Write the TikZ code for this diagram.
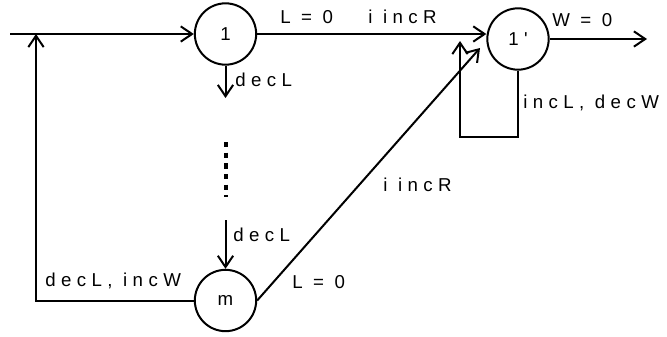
\documentclass[tikz,border=0pt]{standalone}
\usepackage{fontspec}
\setmainfont{Liberation Sans}
\newfontfamily\spacedfont[LetterSpace=29]{Liberation Sans}
\usetikzlibrary{positioning,arrows.meta,calc}
\tikzset{
  fig/.style={font=\spacedfont\fontsize{14}{16}\selectfont},
  state/.style={draw,circle,line width=1.5pt,minimum size=46pt,inner sep=0pt},
  ln/.style={-{Straight Barb[length=8.5pt,width=11.5pt,line width=1.5pt]},line width=1.5pt},
  lbl/.style={anchor=west,inner sep=1.5pt,text height=10pt,text depth=0pt},
}

\begin{document}
\begin{tikzpicture}[fig,x=0.75pt,y=-0.75pt,
  dots/.style={line width=3pt,dash pattern=on 4pt off 4pt}]

\useasboundingbox (0,0) rectangle (667,336);

% =======================  states  =====================
\node[state] (s1)  at (225.5,34)  {1};
\node[state] (s1p) at (518,39)    {1'};
\node[state] (sm)  at (225.5,300.5) {m};

% free ends of the connectors
\coordinate (in)    at (10,34);
\coordinate (jn)    at (36,34);
\coordinate (out)   at (647,39);
\coordinate (lp)    at (460,137);
\coordinate (lpend) at (460,41);
\coordinate (dg)    at (480,48);
\coordinate (d1)    at (225.5,98);
\coordinate (d2)    at (225.5,220);
\coordinate (dt1)   at (225.5,142);
\coordinate (dt2)   at (225.5,197);

% =======================  connectors  =====================
\draw[ln] (in) -- (s1);
\draw[ln] (s1) -- (s1 -| s1p.west);
\draw[ln] (s1p) -- (out);
\draw[ln] (s1p.south) |- (lp) -- (lpend);
\draw[ln] (sm.east) -- (dg);
\draw[ln] (sm.west) -| (jn);
\draw[ln] (s1) -- (d1);
\draw[dots] (dt1) -- (dt2);
\draw[ln] (d2) -- (sm);

% =======================  labels  =====================
\node[lbl] (lL0top)  at (278,17)    {L = 0};
\node[lbl] (lRtop)   at (366,17)    {i incR};
\node[lbl] (lW0)     at (550,19.5)  {W = 0};
\node[lbl] (lloop)   at (521,101.5) {incL, decW};
\node[lbl] (ldec1)   at (233,79.5)  {decL};
\node[lbl] (ldec2)   at (231,234.5) {decL};
\node[lbl] (lincW)   at (43,280)    {decL, incW};
\node[lbl] (lL0bot)  at (290,282)   {L = 0};
\node[lbl] (lRdiag)  at (381,184.5) {i incR};

\end{tikzpicture}
\end{document}
